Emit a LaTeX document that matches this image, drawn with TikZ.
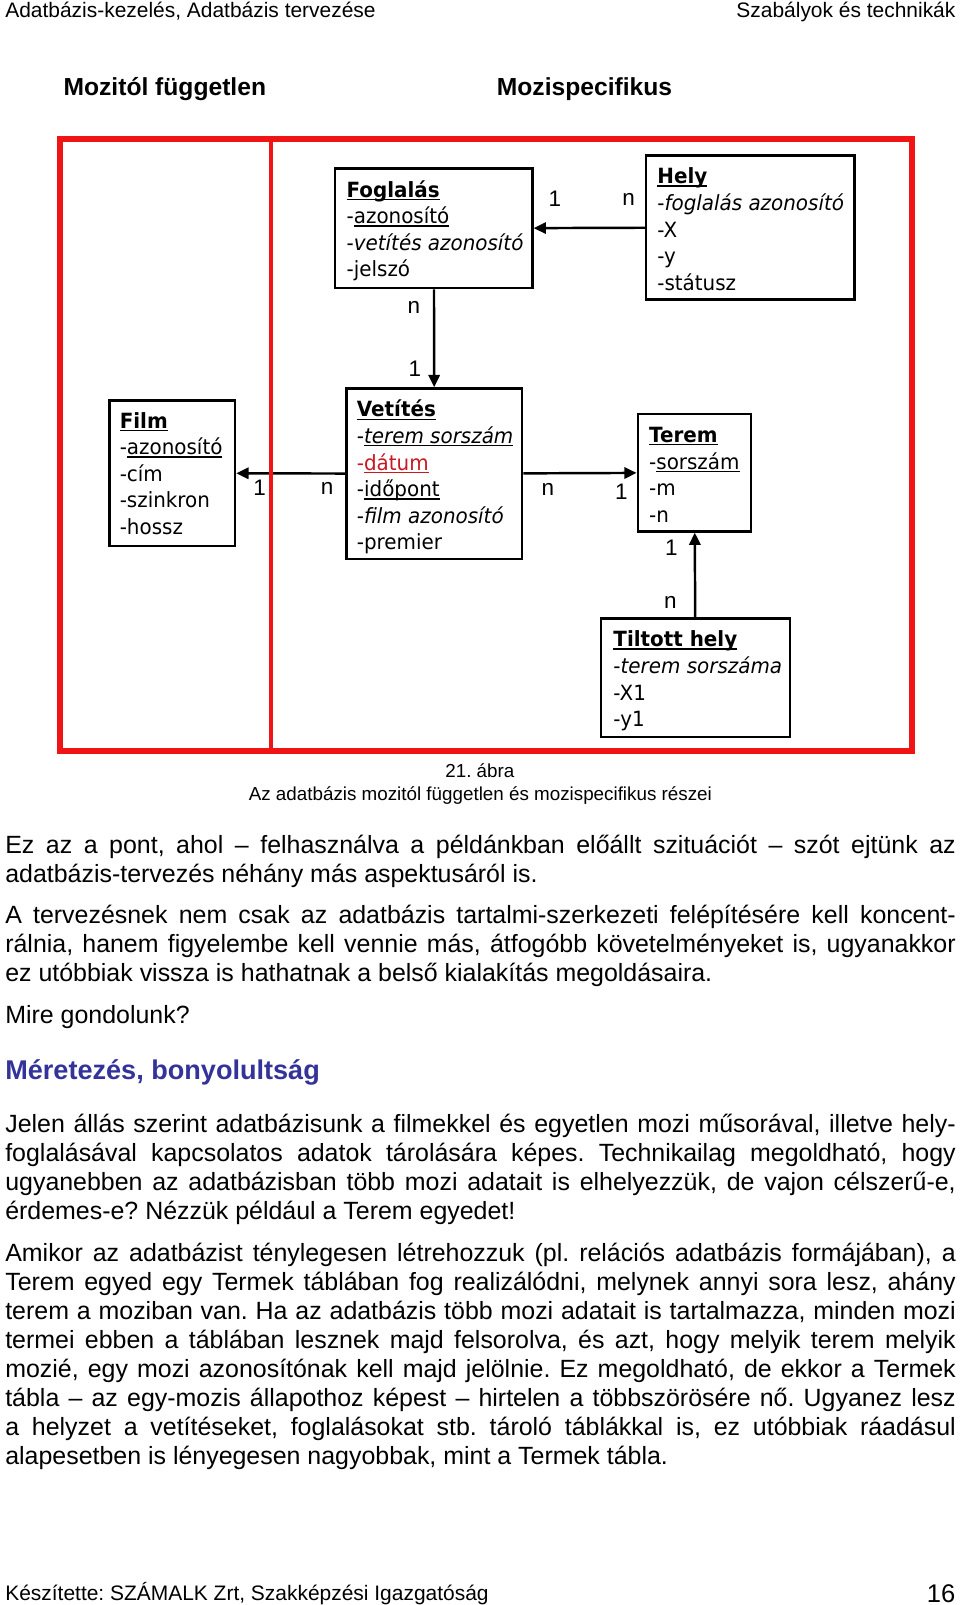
\documentclass[tikz,border=0pt]{standalone}
\usepackage{fontspec}
\setmainfont{Liberation Sans}
\newfontfamily\boxfont[FakeStretch=0.95]{DejaVu Sans}
\usetikzlibrary{arrows.meta}
\definecolor{framered}{RGB}{240,20,20}
\definecolor{headblue}{RGB}{51,51,153}
\definecolor{attrred}{RGB}{200,25,35}
\newcommand\myul[1]{\setbox0\hbox{#1}\rlap{\rule[-2.8pt]{\wd0}{1.3pt}}\box0}
\newcommand\parsetup{\frenchspacing\tolerance=10000\pretolerance=-1\hyphenpenalty=10000\exhyphenpenalty=10000\emergencystretch=0pt}
\frenchspacing
\begin{document}
\begin{tikzpicture}[x=1pt,y=-1pt,
  ebox/.style={draw=black, line width=2.3pt, fill=white, inner sep=0pt},
  etext/.style={anchor=base west, inner sep=0pt, font=\boxfont\fontsize{20.5}{26}\selectfont},
  card/.style={inner sep=0pt, font=\fontsize{22}{26}\selectfont},
  rel/.style={line width=2.4pt, -{Triangle[length=12pt,width=11pt]}},
  body/.style={anchor=base west, inner sep=0pt, font=\fontsize{24.4}{28.4}\selectfont},
  plain/.style={inner sep=0pt}]
\useasboundingbox (0,0) rectangle (939.3,1570.4);
\fill[white] (0,0) rectangle (939.3,1570.4);

% header
\node[plain, anchor=base west, font=\fontsize{20.5}{24}\selectfont] (hl) at (5,17) {Adatbázis-kezelés, Adatbázis tervezése};
\node[plain, anchor=base east, font=\fontsize{20.5}{24}\selectfont] (hr) at (935,17) {Szabályok és technikák};

% titles
\node[plain, anchor=base west, font=\bfseries\fontsize{24.1}{28}\selectfont] (t1) at (62,93) {Mozitól független};
\node[plain, anchor=base west, font=\bfseries\fontsize{24.1}{28}\selectfont] (t2) at (486,93) {Mozispecifikus};

% boxes
\node[ebox, minimum width=193pt, minimum height=117pt] (fog) at (424.5,223.5) {};
\node[ebox, minimum width=204pt, minimum height=141pt] (hely) at (734,222.5) {};
\node[ebox, minimum width=123pt, minimum height=142pt] (film) at (168.5,463) {};
\node[ebox, minimum width=172pt, minimum height=167pt] (vet) at (425,463.5) {};
\node[ebox, minimum width=111pt, minimum height=115pt] (terem) at (679.5,462.5) {};
\node[ebox, minimum width=185pt, minimum height=116pt] (tilt) at (680.5,663) {};

% box texts
\node[etext] (fogt) at (339,193) {\begin{tabular}[t]{@{}l@{}}\bfseries\myul{Foglalás}\\-\myul{azonosító}\\-\textit{vetítés azonosító}\\-jelszó\end{tabular}};
\node[etext] (helyt) at (643,180) {\begin{tabular}[t]{@{}l@{}}\bfseries\myul{Hely}\\-\textit{foglalás azonosító}\\-X\\-y\\-státusz\end{tabular}};
\node[etext] (filmt) at (117,419) {\begin{tabular}[t]{@{}l@{}}\bfseries\myul{Film}\\-\myul{azonosító}\\-cím\\-szinkron\\-hossz\end{tabular}};
\node[etext] (vett) at (349,408) {\begin{tabular}[t]{@{}l@{}}\bfseries\myul{Vetítés}\\-\myul{\itshape terem sorszám}\\\textcolor{attrred}{-\myul{dátum}}\\-\myul{időpont}\\-\textit{film azonosító}\\-premier\end{tabular}};
\node[etext] (taremt) at (635,433) {\begin{tabular}[t]{@{}l@{}}\bfseries\myul{Terem}\\-\myul{sorszám}\\-m\\-n\end{tabular}};
\node[etext] (tiltt) at (600,633) {\begin{tabular}[t]{@{}l@{}}\bfseries\myul{Tiltott hely}\\-\textit{terem sorszáma}\\-X1\\-y1\end{tabular}};

% relationships
\draw[rel] (hely) -- (fog);
\draw[rel] (fog) -- (vet);
\draw[rel] (vet) -- (film);
\draw[rel] (vet) -- (terem);
\draw[rel] (tilt) -- (terem);

% cardinalities
\node[card] (c1) at (543,194) {1};
\node[card] (c2) at (615,195) {n};
\node[card] (c3) at (405,301) {n};
\node[card] (c4) at (406,361) {1};
\node[card] (c5) at (254,477) {1};
\node[card] (c6) at (320,478) {n};
\node[card] (c7) at (536,479) {n};
\node[card] (c8) at (608,481) {1};
\node[card] (c9) at (657,536) {1};
\node[card] (c10) at (656,589) {n};

% red frame
\draw[framered, line width=6pt] (59,136) rectangle (892,735);
\draw[framered, line width=4.5pt] (265,136) -- (265,735);

% caption
\node[plain, anchor=base, font=\fontsize{18.4}{22}\selectfont] (cap1) at (469.5,761) {21. ábra};
\node[plain, anchor=base, font=\fontsize{18.4}{22}\selectfont] (cap2) at (470,783) {Az adatbázis mozitól független és mozispecifikus részei};

% body
\node[body] (p1) at (5,835) {\parbox[t]{930pt}{\parsetup Ez az a pont, ahol – felhasználva a példánkban előállt szituációt – szót ejtünk az\linebreak adatbázis-tervezés néhány más aspektusáról is.}};
\node[body] (p2) at (5,904) {\parbox[t]{930pt}{\parsetup A tervezésnek nem csak az adatbázis tartalmi-szerkezeti felépítésére kell koncent-\linebreak rálnia, hanem figyelembe kell vennie más, átfogóbb követelményeket is, ugyanakkor\linebreak ez utóbbiak vissza is hathatnak a belső kialakítás megoldásaira.}};
\node[body] (p3) at (5,1001) {Mire gondolunk?};
\node[plain, anchor=base west, text=headblue, font=\bfseries\fontsize{26.5}{30}\selectfont] (head) at (5,1056) {Méretezés, bonyolultság};
\node[body] (p4) at (5,1108) {\parbox[t]{930pt}{\parsetup Jelen állás szerint adatbázisunk a filmekkel és egyetlen mozi műsorával, illetve hely-\linebreak foglalásával kapcsolatos adatok tárolására képes. Technikailag megoldható, hogy\linebreak ugyanebben az adatbázisban több mozi adatait is elhelyezzük, de vajon célszerű-e,\linebreak érdemes-e? Nézzük például a Terem egyedet!}};
\node[body] (p5) at (5,1234) {\parbox[t]{930pt}{\parsetup Amikor az adatbázist ténylegesen létrehozzuk (pl. relációs adatbázis formájában), a\linebreak Terem egyed egy Termek táblában fog realizálódni, melynek annyi sora lesz, ahány\linebreak terem a moziban van. Ha az adatbázis több mozi adatait is tartalmazza, minden mozi\linebreak termei ebben a táblában lesznek majd felsorolva, és azt, hogy melyik terem melyik\linebreak mozié, egy mozi azonosítónak kell majd jelölnie. Ez megoldható, de ekkor a Termek\linebreak tábla – az egy-mozis állapothoz képest – hirtelen a többszörösére nő. Ugyanez lesz\linebreak a helyzet a vetítéseket, foglalásokat stb. tároló táblákkal is, ez utóbbiak ráadásul\linebreak alapesetben is lényegesen nagyobbak, mint a Termek tábla.}};

% footer
\node[plain, anchor=base west, font=\fontsize{20.5}{24}\selectfont] (foot) at (5,1566) {Készítette: SZÁMALK Zrt, Szakképzési Igazgatóság};
\node[plain, anchor=base east, font=\fontsize{25}{28}\selectfont] (page) at (935,1568) {16};
\end{tikzpicture}
\end{document}
